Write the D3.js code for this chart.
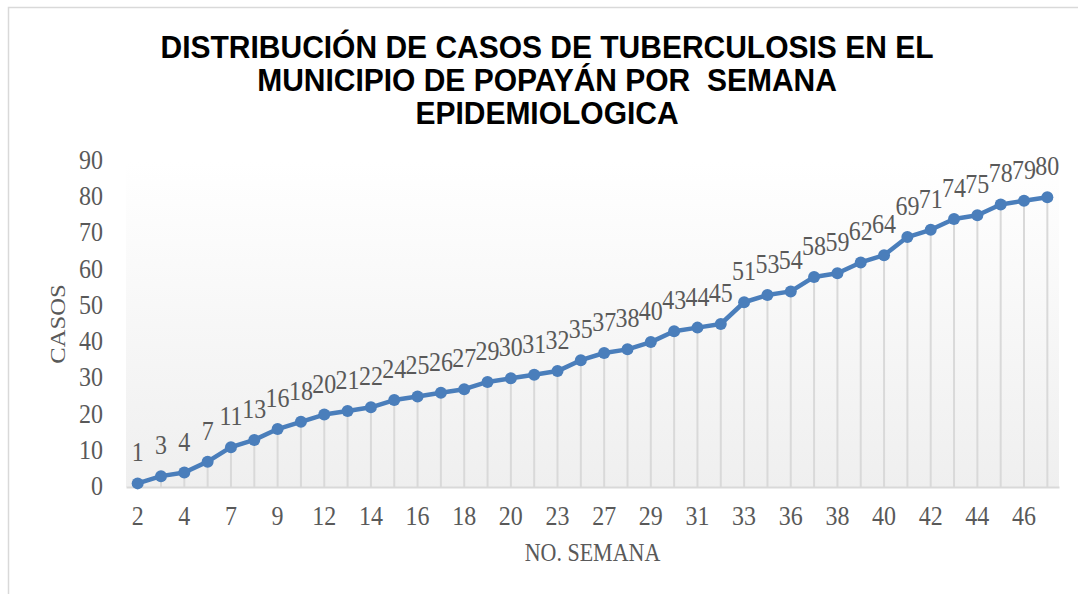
<!DOCTYPE html>
<html>
<head>
<meta charset="utf-8">
<script src="https://cdn.jsdelivr.net/npm/d3@7"></script>
<style>
  body { margin: 0; background: #fff; }
  svg { display: block; }
</style>
</head>
<body>
<svg id="chart" width="1078" height="594"></svg>
<script>
// semanas epidemiologicas (eje x) y casos acumulados
var weeks = [2, 3, 4, 5, 7, 8, 9, 10, 12, 13, 14, 15, 16, 17, 18, 19, 20, 21, 23, 25,
             27, 28, 29, 30, 31, 32, 33, 34, 36, 37, 38, 39, 40, 41, 42, 43, 44, 45, 46, 47];
var cases = [1, 3, 4, 7, 11, 13, 16, 18, 20, 21, 22, 24, 25, 26, 27, 29, 30, 31, 32, 35,
             37, 38, 40, 43, 44, 45, 51, 53, 54, 58, 59, 62, 64, 69, 71, 74, 75, 78, 79, 80];
var yTicks = [0, 10, 20, 30, 40, 50, 60, 70, 80, 90];
var titleLines = ["DISTRIBUCIÓN DE CASOS DE TUBERCULOSIS EN EL",
                  "MUNICIPIO DE POPAYÁN POR  SEMANA",
                  "EPIDEMIOLOGICA"];

var svg = d3.select("#chart");
var textColor = "#595959";
var serif = "'Liberation Serif', 'Times New Roman', serif";
// el original tiene el texto algo estirado en vertical
var stretch = "scale(1,1.12)";

// area de trazado (no usar "top": choca con window.top)
var plotLeft = 126, plotRight = 1059, plotTop = 161, plotBottom = 487;

var data = weeks.map(function (w, i) { return { week: w, value: cases[i] }; });

var x = d3.scaleBand()
    .domain(weeks.map(String))
    .range([plotLeft, plotRight])
    .padding(0);

var y = d3.scaleLinear()
    .domain([0, 90])
    .range([plotBottom, plotTop]);

function cx(d) { return x(String(d.week)) + x.bandwidth() / 2; }

// marco del grafico
svg.append("rect")
    .attr("x", 8.5).attr("y", 7.5)
    .attr("width", 1200).attr("height", 700)
    .attr("fill", "none")
    .attr("stroke", "#d9d9d9")
    .attr("stroke-width", 1.5);

// fondo del area de trazado con degradado
var grad = svg.append("defs").append("linearGradient")
    .attr("id", "bg").attr("x1", 0).attr("y1", 0).attr("x2", 0).attr("y2", 1);
grad.append("stop").attr("offset", "0%").attr("stop-color", "#ffffff");
grad.append("stop").attr("offset", "100%").attr("stop-color", "#efefef");

svg.append("rect")
    .attr("x", plotLeft).attr("y", plotTop)
    .attr("width", plotRight - plotLeft).attr("height", plotBottom - plotTop)
    .attr("fill", "url(#bg)");

// titulo
svg.append("g").selectAll("text")
    .data(titleLines)
    .enter()
    .append("text")
    .attr("transform", function (d, i) {
        return "translate(547," + (58 + i * 33) + ") scale(1,1.07)";
    })
    .attr("text-anchor", "middle")
    .style("white-space", "pre")
    .attr("font-family", "'Liberation Sans', Arial, sans-serif")
    .attr("font-weight", "bold")
    .attr("font-size", 30)
    .attr("fill", "#000")
    .text(function (d) { return d; });

// lineas de caida
svg.append("g").selectAll("line")
    .data(data)
    .enter()
    .append("line")
    .attr("x1", cx).attr("x2", cx)
    .attr("y1", function (d) { return y(d.value); })
    .attr("y2", y(0))
    .attr("stroke", "#d9d9d9")
    .attr("stroke-width", 2);

// eje x (linea base)
var xAxis = d3.axisBottom(x)
    .tickSize(0)
    .tickPadding(17)
    .tickFormat(function (d, i) { return i % 2 === 0 ? d : ""; });

var gx = svg.append("g")
    .attr("transform", "translate(0," + plotBottom + ")")
    .call(xAxis);
gx.select(".domain").attr("stroke", "#d9d9d9").attr("stroke-width", 2);
gx.selectAll("text")
    .attr("font-family", serif)
    .attr("font-size", 24)
    .attr("fill", textColor)
    .attr("transform", stretch);

// eje y
var yAxis = d3.axisLeft(y)
    .tickValues(yTicks)
    .tickSize(0)
    .tickPadding(23);

var gy = svg.append("g")
    .attr("transform", "translate(" + plotLeft + ",0)")
    .call(yAxis);
gy.select(".domain").remove();
gy.selectAll("text")
    .attr("font-family", serif)
    .attr("font-size", 24)
    .attr("fill", textColor)
    .attr("dy", "0.28em")
    .attr("transform", stretch);

// linea de casos
var line = d3.line()
    .x(cx)
    .y(function (d) { return y(d.value); });

svg.append("path")
    .datum(data)
    .attr("d", line)
    .attr("fill", "none")
    .attr("stroke", "#4a7ebb")
    .attr("stroke-width", 4.5)
    .attr("stroke-linejoin", "round");

svg.append("g").selectAll("circle")
    .data(data)
    .enter()
    .append("circle")
    .attr("cx", cx)
    .attr("cy", function (d) { return y(d.value); })
    .attr("r", 6)
    .attr("fill", "#4a7ebb");

// etiquetas de datos
svg.append("g").selectAll("text")
    .data(data)
    .enter()
    .append("text")
    .attr("transform", function (d) {
        return "translate(" + cx(d) + "," + (y(d.value) - 22) + ") " + stretch;
    })
    .attr("text-anchor", "middle")
    .attr("font-family", serif)
    .attr("font-size", 24)
    .attr("fill", textColor)
    .text(function (d) { return d.value; });

// titulos de ejes
svg.append("text")
    .attr("transform", "translate(" + ((plotLeft + plotRight) / 2) + ",561) " + stretch)
    .attr("text-anchor", "middle")
    .attr("font-family", serif)
    .attr("font-size", 22)
    .attr("fill", textColor)
    .text("NO. SEMANA");

svg.append("text")
    .attr("transform", "translate(65," + ((plotTop + plotBottom) / 2) + ") rotate(-90) scale(1.12,1)")
    .attr("text-anchor", "middle")
    .attr("font-family", serif)
    .attr("font-size", 22)
    .attr("fill", textColor)
    .text("CASOS");
</script>
</body>
</html>
